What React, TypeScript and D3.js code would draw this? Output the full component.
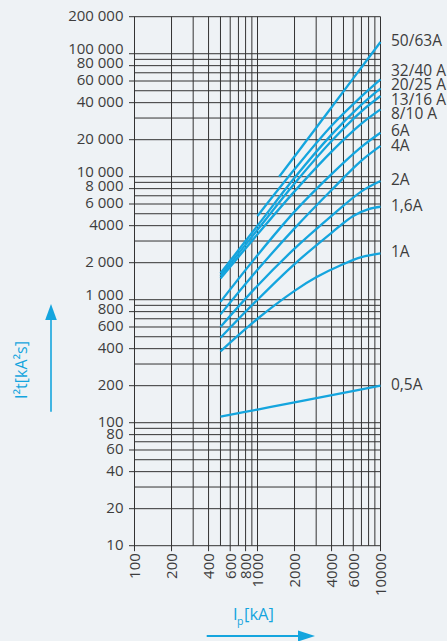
import * as d3 from 'd3';
import { useEffect, useRef } from 'react';

const WIDTH = 447;
const HEIGHT = 641;

const BLUE = '#14a5de';
const TEXT = '#3d3d3d';
const GRID = '#333333';
const BG = '#eef2f5';
const FONT = '"Open Sans", "DejaVu Sans", sans-serif';

// labelled ticks (grid lines themselves come from the log scale)
const Y_TICKS = [10, 20, 40, 60, 80, 100, 200, 400, 600, 800, 1000, 2000, 4000, 6000, 8000, 10000, 20000, 40000, 60000, 80000, 100000, 200000];
const Y_TICK_LABELS = ['10', '20', '40', '60', '80', '100', '200', '400', '600', '800', '1 000', '2 000', '4000', '6 000', '8 000', '10 000', '20 000', '40 000', '60 000', '80 000', '100 000', '200 000'];
const X_TICKS = [100, 200, 400, 600, 800, 1000, 2000, 4000, 6000, 10000];
const X_TICK_LABELS = ['100', '200', '400', '600', '800', '1000', '2000', '4000', '6000', '10000'];

type Pt = [number, number]; // [Ip kA, I²t kA²s]

const fuse50_63: Pt[] = [[1500, 10000], [3000, 25000], [6000, 63000], [10000, 124500]];
const fuse32_40: Pt[] = [[1000, 4800], [2000, 11500], [4000, 26000], [7000, 45000], [10000, 61900]];
const fuse20_25: Pt[] = [[500, 1640], [1000, 4000], [2000, 9800], [4000, 22000], [7000, 38500], [10000, 52300]];
const fuse13_16: Pt[] = [[500, 1560], [1000, 3700], [2000, 8800], [4000, 19500], [7000, 34000], [10000, 45300]];
const fuse8_10: Pt[] = [[500, 1490], [1000, 3400], [2000, 7600], [4000, 16000], [7000, 27000], [10000, 35300]];
const fuse6: Pt[] = [[500, 960], [1000, 2300], [2000, 5200], [4000, 10500], [7000, 17500], [10000, 22800]];
const fuse4: Pt[] = [[500, 760], [1000, 1750], [2000, 3800], [4000, 7800], [7000, 13500], [10000, 17800]];
const fuse2: Pt[] = [[500, 600], [1000, 1300], [2000, 2600], [4000, 4800], [7000, 7600], [10000, 9230]];
const fuse1_6: Pt[] = [[500, 490], [1000, 1000], [2000, 1950], [4000, 3500], [6000, 4800], [8000, 5450], [10000, 5700]];
const fuse1: Pt[] = [[500, 380], [1000, 700], [2000, 1180], [3000, 1520], [5000, 1950], [7000, 2220], [10000, 2380]];
const fuse0_5: Pt[] = [[500, 112], [1000, 128], [2000, 146], [5000, 175], [10000, 200]];

const SERIES_NAMES = ['50/63A', '32/40 A', '20/25 A', '13/16 A', '8/10 A', '6A', '4A', '2A', '1,6A', '1A', '0,5A'];
const SERIES = [fuse50_63, fuse32_40, fuse20_25, fuse13_16, fuse8_10, fuse6, fuse4, fuse2, fuse1_6, fuse1, fuse0_5];

const LetThroughChart: React.FC = () => {
    const svgRef = useRef<SVGSVGElement | null>(null);

    useEffect(() => {
        if (!svgRef.current) return;
        const svg = d3.select(svgRef.current);
        svg.selectAll('*').remove();

        const plot = { left: 134.5, right: 380.5, top: 16.7, bottom: 545.7 };

        const xScale = d3.scaleLog().domain([100, 10000]).range([plot.left, plot.right]);
        const yScale = d3.scaleLog().domain([10, 200000]).range([plot.bottom, plot.top]);

        svg.append('rect').attr('width', WIDTH).attr('height', HEIGHT).attr('fill', BG);

        const grid = svg.append('g').attr('stroke', GRID).attr('stroke-width', 1).attr('fill', 'none');

        // horizontal grid, every 1..9 multiple
        grid.selectAll('.hline')
            .data(yScale.ticks())
            .join('line')
            .attr('class', 'hline')
            .attr('x1', (d) => (Y_TICKS.includes(d) ? plot.left - 5.5 : plot.left))
            .attr('x2', plot.right)
            .attr('y1', (d) => yScale(d))
            .attr('y2', (d) => yScale(d));

        // vertical grid
        grid.selectAll('.vline')
            .data(xScale.ticks())
            .join('line')
            .attr('class', 'vline')
            .attr('x1', (d) => xScale(d))
            .attr('x2', (d) => xScale(d))
            .attr('y1', plot.top)
            .attr('y2', (d) => (X_TICKS.includes(d) ? plot.bottom + 5.5 : plot.bottom));

        // y tick labels - the crowded ones sit a bit higher
        svg.append('g')
            .selectAll('text')
            .data(Y_TICKS)
            .join('text')
            .attr('x', 123.5)
            .attr('y', (d) => {
                const lg = Math.log10(d);
                let shift = -1;
                if (d >= 1000 && Math.abs(lg - Math.round(lg)) < 1e-9) shift -= 4;
                if (String(d)[0] === '8' && d >= 800) shift -= 2;
                return yScale(d) + shift;
            })
            .attr('dy', '0.36em')
            .attr('text-anchor', 'end')
            .attr('fill', TEXT)
            .style('font-family', FONT)
            .style('font-size', '15px')
            .text((d, i) => Y_TICK_LABELS[i]);

        // x tick labels, rotated
        svg.append('g')
            .selectAll('text')
            .data(X_TICKS)
            .join('text')
            .attr('transform', (d) => `translate(${xScale(d)},${plot.bottom + 7.5}) rotate(-90)`)
            .attr('dy', '0.36em')
            .attr('text-anchor', 'end')
            .attr('fill', TEXT)
            .style('font-family', FONT)
            .style('font-size', '15px')
            .text((d, i) => X_TICK_LABELS[i]);

        // curves
        const line = d3
            .line<Pt>()
            .x((d) => xScale(d[0]))
            .y((d) => yScale(d[1]))
            .curve(d3.curveCatmullRom.alpha(0.5));

        svg.append('g')
            .selectAll('path')
            .data(SERIES)
            .join('path')
            .attr('d', (d) => line(d))
            .attr('fill', 'none')
            .attr('stroke', BLUE)
            .attr('stroke-width', 2.3)
            .attr('stroke-linecap', 'butt');

        // right-hand labels, spread apart where the curve ends bunch up
        const labelY = SERIES.map((s) => yScale(s[s.length - 1][1]));
        const gap = 14.5;
        for (let iter = 0; iter < 60; iter++) {
            for (let i = 0; i < labelY.length - 1; i++) {
                const diff = labelY[i + 1] - labelY[i];
                if (diff < gap) {
                    const push = (gap - diff) / 2;
                    labelY[i] -= push;
                    labelY[i + 1] += push;
                }
            }
        }

        svg.append('g')
            .selectAll('text')
            .data(SERIES_NAMES)
            .join('text')
            .attr('x', plot.right + 10.5)
            .attr('y', (d, i) => labelY[i] - 1.5)
            .attr('dy', '0.36em')
            .attr('fill', TEXT)
            .style('font-family', FONT)
            .style('font-size', '15.5px')
            .text((d) => d);

        // y axis title + arrow
        svg.append('text')
            .attr('transform', 'translate(21,370) rotate(-90)')
            .attr('text-anchor', 'middle')
            .attr('dy', '0.36em')
            .attr('fill', BLUE)
            .style('font-family', FONT)
            .style('font-size', '16px')
            .text('I²t[kA²s]');

        svg.append('line')
            .attr('x1', 51)
            .attr('x2', 51)
            .attr('y1', 411.7)
            .attr('y2', 318)
            .attr('stroke', BLUE)
            .attr('stroke-width', 1.6);
        svg.append('path').attr('d', 'M51,304L56.8,320L45.2,320Z').attr('fill', BLUE);

        // x axis title + arrow
        const xt = svg
            .append('text')
            .attr('x', 233)
            .attr('y', 620)
            .attr('fill', BLUE)
            .style('font-family', FONT)
            .style('font-size', '16.5px');
        xt.append('tspan').text('I');
        xt.append('tspan').attr('dy', 5).attr('dx', -0.5).style('font-size', '10.5px').text('p');
        xt.append('tspan').attr('dy', -5).attr('dx', 0.5).text('[kA]');

        svg.append('line')
            .attr('x1', 206.7)
            .attr('x2', 300)
            .attr('y1', 636)
            .attr('y2', 636)
            .attr('stroke', BLUE)
            .attr('stroke-width', 1.8);
        svg.append('path').attr('d', 'M315,636L298,630.5L298,641.5Z').attr('fill', BLUE);
    }, []);

    return (
        <svg
            ref={svgRef}
            width={WIDTH}
            height={HEIGHT}
            style={{ position: 'absolute', left: 0, top: 0, display: 'block' }}
        ></svg>
    );
};

export default function App() {
    return <LetThroughChart />;
}
